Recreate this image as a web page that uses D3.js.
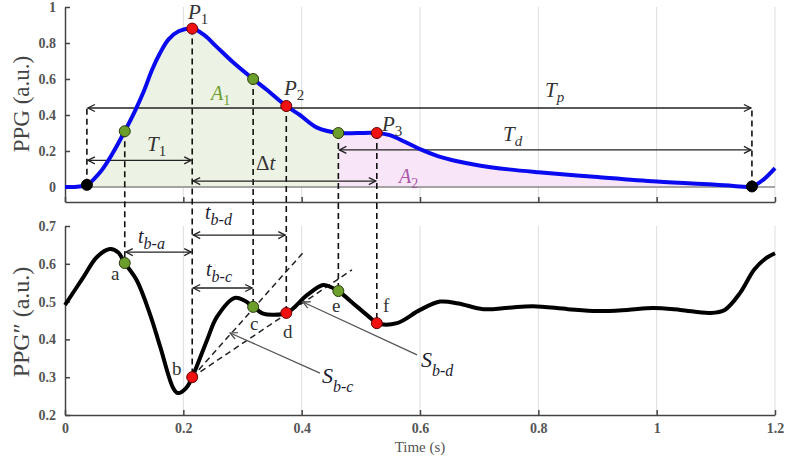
<!DOCTYPE html>
<html><head><meta charset="utf-8">
<script src="https://cdn.jsdelivr.net/npm/d3@7"></script>
<style>body{margin:0;background:#fff}svg{display:block}text{font-family:"Liberation Serif",serif}</style>
</head><body><svg id="c" width="787" height="462"></svg>
<script>
// PPG (top) signal
const ppgT = [0,0.020,0.037,0.060,0.081,0.101,0.118,0.133,0.147,0.160,0.175,0.192,0.215,0.235,0.256,0.285,0.318,0.341,0.374,0.397,0.426,0.462,0.495,0.527,0.549,0.575,0.600,0.630,0.663,0.700,0.750,0.800,0.900,1.000,1.100,1.130,1.161,1.180,1.200];
const ppgV = [0,0.002,0.012,0.085,0.19,0.31,0.42,0.53,0.65,0.74,0.82,0.865,0.88,0.845,0.78,0.69,0.60,0.54,0.45,0.40,0.33,0.30,0.30,0.30,0.288,0.25,0.21,0.172,0.143,0.12,0.098,0.082,0.055,0.03,0.012,0.006,0.003,0.04,0.105];
// PPG'' (bottom) signal
const d2T = [0,0.030,0.054,0.076,0.090,0.101,0.121,0.144,0.161,0.183,0.191,0.205,0.215,0.240,0.257,0.287,0.303,0.318,0.335,0.350,0.375,0.409,0.436,0.450,0.462,0.494,0.516,0.527,0.561,0.600,0.634,0.665,0.707,0.750,0.791,0.850,0.900,0.950,0.994,1.040,1.090,1.115,1.141,1.165,1.185,1.200];
const d2V = [0.491,0.562,0.618,0.639,0.630,0.602,0.557,0.465,0.38,0.271,0.258,0.272,0.30,0.398,0.46,0.51,0.503,0.486,0.468,0.465,0.470,0.517,0.544,0.538,0.528,0.486,0.457,0.443,0.443,0.478,0.500,0.495,0.480,0.484,0.488,0.480,0.475,0.478,0.483,0.478,0.470,0.478,0.523,0.585,0.615,0.628];
// fiducial points
const fidT    = [0.037,0.101,0.215,0.318,0.374,0.462,0.527,1.161];
const fidTopV = [0.012,0.31,0.88,0.60,0.45,0.30,0.30,0.003];
const fidBotV = [null,0.602,0.30,0.486,0.470,0.528,0.443,null];
const fidColor= ["black","green","red","green","red","green","red","black"];
const fidLetters = ["","a","b","c","d","e","f",""];
// ticks
const xTicks = [0,0.2,0.4,0.6,0.8,1,1.2];
const yTopTicks = [0,0.2,0.4,0.6,0.8,1];
const yBotTicks = [0.2,0.3,0.4,0.5,0.6,0.7];
// interval arrows (top panel): from, to, level
const topArrowFrom = [0.037,0.037,0.215,0.462];
const topArrowTo   = [1.161,0.215,0.527,1.161];
const topArrowLev  = [0.439,0.148,0.033,0.206];
// interval arrows (bottom panel)
const botArrowFrom = [0.101,0.215,0.215];
const botArrowTo   = [0.215,0.374,0.318];
const botArrowLev  = [0.631,0.676,0.536];
// slope tangent lines from b
const tanEndT = [0.406,0.485];
const tanEndV = [0.636,0.584];
// slope pointer arrows (label end -> tip)
const ptrFromT = [0.431,0.595], ptrFromV = [0.311,0.359];
const ptrToT   = [0.279,0.402], ptrToV   = [0.417,0.499];

const svg = d3.select("#c");
const x = d3.scaleLinear([0,1.2],[65,775]);
const yT = d3.scaleLinear([-0.0833,1],[202,7]);
const yB = d3.scaleLinear([0.2,0.7],[415,226]);
const crv = d3.curveCatmullRom.alpha(0.5);

const defs = svg.append("defs");
function mk(id,color){
  defs.append("marker").attr("id",id).attr("viewBox","-8 -5 10 10").attr("refX",0).attr("refY",0)
   .attr("markerWidth",10).attr("markerHeight",10).attr("markerUnits","userSpaceOnUse").attr("orient","auto-start-reverse")
   .append("path").attr("d","M-7,-3.5L0,0L-7,3.5").attr("fill","none").attr("stroke",color).attr("stroke-width",1.3);
}
mk("ah","#222"); mk("ahg","#555");

// gridlines
const gx = xTicks.filter(d=>d>0);
svg.append("g").selectAll("line").data(gx).join("line")
  .attr("x1",d=>x(d)).attr("x2",d=>x(d)).attr("y1",yT(1)).attr("y2",yT.range()[0]).attr("stroke","#ddd").attr("stroke-width",1);
svg.append("g").selectAll("line").data(gx).join("line")
  .attr("x1",d=>x(d)).attr("x2",d=>x(d)).attr("y1",yB(0.7)).attr("y2",yB(0.2)).attr("stroke","#ddd").attr("stroke-width",1);

// fills
const ppg = ppgT.map((t,i)=>[t,ppgV[i]]);
const area = d3.area().x(d=>x(d[0])).y0(yT(0)).y1(d=>yT(d[1])).curve(crv);
defs.append("clipPath").attr("id","c1").append("rect").attr("x",x(fidT[0])).attr("width",x(fidT[5])-x(fidT[0])).attr("y",0).attr("height",220);
defs.append("clipPath").attr("id","c2").append("rect").attr("x",x(fidT[5])).attr("width",x(fidT[7])-x(fidT[5])).attr("y",0).attr("height",220);
svg.append("path").datum(ppg).attr("d",area).attr("fill","#edf3e4").attr("clip-path","url(#c1)");
svg.append("path").datum(ppg).attr("d",area).attr("fill","#f8e6f8").attr("clip-path","url(#c2)");

// baseline at 0
svg.append("line").attr("x1",x(0)).attr("x2",x(1.2)).attr("y1",yT(0)).attr("y2",yT(0)).attr("stroke","#888").attr("stroke-width",1.5);

// axes
function styleAxis(g){g.selectAll("path,line").attr("stroke","#444").attr("stroke-width",1.5);
  g.selectAll("text").attr("fill","#555").attr("font-size",14).attr("font-family","Liberation Serif").attr("font-weight","bold");}
const fmt = d3.format("~g");
svg.append("g").attr("transform",`translate(${x(0)},0)`).call(d3.axisLeft(yT).tickValues(yTopTicks).tickFormat(fmt).tickSizeInner(-5).tickSizeOuter(0).tickPadding(9)).call(styleAxis);
svg.append("g").attr("transform",`translate(0,${yT.range()[0]})`).call(d3.axisBottom(x).tickValues(xTicks).tickFormat("").tickSizeInner(-5).tickSizeOuter(0)).call(styleAxis);
svg.append("g").attr("transform",`translate(${x(0)},0)`).call(d3.axisLeft(yB).tickValues(yBotTicks).tickFormat(fmt).tickSizeInner(-5).tickSizeOuter(0).tickPadding(9)).call(styleAxis);
svg.append("g").attr("transform",`translate(0,${yB(0.2)})`).call(d3.axisBottom(x).tickValues(xTicks).tickFormat(fmt).tickSizeInner(-5).tickSizeOuter(0).tickPadding(8)).call(styleAxis);

// axis titles
svg.append("text").attr("transform",`translate(29,104) rotate(-90)`).attr("text-anchor","middle")
  .attr("font-size",23).attr("fill","#444").text("PPG (a.u.)");
svg.append("text").attr("transform",`translate(29,322) rotate(-90)`).attr("text-anchor","middle")
  .attr("font-size",24).attr("fill","#444").text("PPG\u2033 (a.u.)");
svg.append("text").attr("x",x(0.6)).attr("y",452).attr("text-anchor","middle").attr("font-size",15).attr("fill","#555").text("Time (s)");

// tangent dashed lines
svg.append("g").selectAll("line").data(tanEndT).join("line")
  .attr("x1",x(fidT[2])).attr("y1",yB(fidBotV[2])).attr("x2",d=>x(d)).attr("y2",(d,i)=>yB(tanEndV[i]))
  .attr("stroke","#222").attr("stroke-width",1.5).attr("stroke-dasharray","6,4");

// vertical dashed connectors
const dash = svg.append("g").attr("stroke","#111").attr("stroke-width",1.6).attr("stroke-dasharray","6,4").attr("fill","none");
fidT.forEach((t,i)=>{
  let y1 = yT(fidTopV[i]);
  let y2 = fidBotV[i]==null ? yT(topArrowLev[0]) : yB(fidBotV[i]);
  dash.append("line").attr("x1",x(t)).attr("x2",x(t)).attr("y1",y1).attr("y2",y2);
});

// interval arrows
function arrows(from,to,lev,ys){
  svg.append("g").selectAll("line").data(from).join("line")
   .attr("x1",d=>x(d)+1).attr("x2",(d,i)=>x(to[i])-1).attr("y1",(d,i)=>ys(lev[i])).attr("y2",(d,i)=>ys(lev[i]))
   .attr("stroke","#222").attr("stroke-width",1.3).attr("marker-start","url(#ah)").attr("marker-end","url(#ah)");
}
arrows(topArrowFrom,topArrowTo,topArrowLev,yT);
arrows(botArrowFrom,botArrowTo,botArrowLev,yB);

// curves
svg.append("path").datum(ppg).attr("fill","none").attr("stroke","#0a0af0").attr("stroke-width",4)
  .attr("d",d3.line().x(d=>x(d[0])).y(d=>yT(d[1])).curve(crv));
svg.append("path").datum(d2T.map((t,i)=>[t,d2V[i]])).attr("fill","none").attr("stroke","#000").attr("stroke-width",4)
  .attr("d",d3.line().x(d=>x(d[0])).y(d=>yB(d[1])).curve(crv));

// dots
const fillC = {black:"#000",green:"#6c9e2c",red:"#f01010"};
const strokeC = {black:"#000",green:"#2d3d10",red:"#600"};
fidT.forEach((t,i)=>{
  svg.append("circle").attr("cx",x(t)).attr("cy",yT(fidTopV[i])).attr("r",5.5).attr("fill",fillC[fidColor[i]]).attr("stroke",strokeC[fidColor[i]]).attr("stroke-width",1);
  if(fidBotV[i]!=null) svg.append("circle").attr("cx",x(t)).attr("cy",yB(fidBotV[i])).attr("r",5.5).attr("fill",fillC[fidColor[i]]).attr("stroke",strokeC[fidColor[i]]).attr("stroke-width",1);
});

// S pointer arrows
ptrFromT.forEach((t,i)=>{
  svg.append("line").attr("x1",x(t)).attr("y1",yB(ptrFromV[i])).attr("x2",x(ptrToT[i])).attr("y2",yB(ptrToV[i]))
   .attr("stroke","#555").attr("stroke-width",1.3).attr("marker-end","url(#ahg)");
});

// labels
function sublabel(px,py,main,sub,size,subsize,color,dy,italicSub){
  const t = svg.append("text").attr("x",px).attr("y",py).attr("fill",color).attr("font-size",size);
  t.append("tspan").attr("font-style","italic").text(main);
  t.append("tspan").attr("font-size",subsize).attr("dy",dy).attr("font-style",italicSub?"italic":"normal").text(sub);
}
sublabel(188,19,"P","1",21,15,"#333",5,false);
sublabel(284,95,"P","2",21,15,"#333",5,false);
sublabel(382,131,"P","3",21,15,"#333",5,false);
sublabel(147,151,"T","1",21,15,"#333",5,false);
sublabel(545,97,"T","p",21,15,"#333",5,true);
sublabel(503,141,"T","d",21,15,"#333",5,true);
sublabel(211,100,"A","1",20,14,"#6c9e2c",5,false);
sublabel(399,183,"A","2",20,14,"#a855a8",5,false);
svg.append("text").attr("x",256).attr("y",170).attr("font-size",21).attr("fill","#333").html('Δ<tspan font-style="italic">t</tspan>');
sublabel(138,243,"t","b-a",20,16,"#1c1c30",6,true);
sublabel(205,219,"t","b-d",20,16,"#1c1c30",6,true);
sublabel(206,276,"t","b-c",20,16,"#1c1c30",6,true);
sublabel(322,383,"S","b-c",22,16,"#1c1c30",9,true);
sublabel(421,367,"S","b-d",22,16,"#1c1c30",9,true);
const letterX = [0,111,172,250,283,332,383,0], letterY=[0,280,375,330,338,312,312,0];
fidLetters.forEach((l,i)=>{ if(l) svg.append("text").attr("x",letterX[i]).attr("y",letterY[i]).attr("font-size",19).attr("fill","#333").text(l);});
</script></body></html>
